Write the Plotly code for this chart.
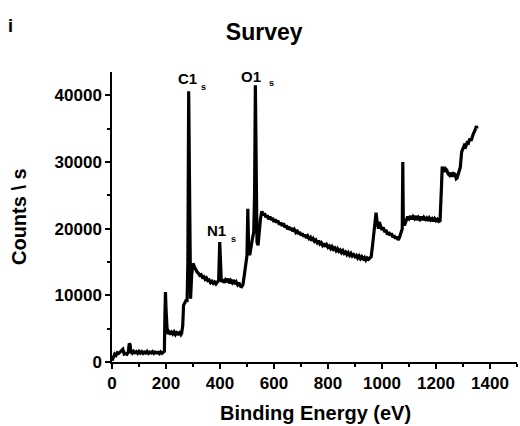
import plotly.graph_objects as go

# Binding energy (eV) and counts, region by region
energy_low = [0, 5, 10, 15, 20, 25, 30, 35, 40, 45, 50, 55, 60, 64, 67, 70, 75, 80, 85, 90, 95,
              100, 105, 110, 115, 120, 125, 130, 135, 140, 145, 150, 155, 160, 165, 170, 175,
              180, 185, 190, 194]
counts_low = [200, 600, 1200, 1000, 1400, 1300, 1500, 1800, 1900, 1200, 1300, 1150, 1400, 2800,
              2600, 1500, 1300, 1600, 1400, 1550, 1300, 1600, 1350, 1550, 1300, 1500, 1350, 1600,
              1300, 1500, 1350, 1550, 1300, 1500, 1350, 1450, 1250, 1500, 1300, 1450, 1600]

energy_c = [196, 198, 200, 202, 205, 210, 215, 220, 225, 230, 235, 240, 245, 250, 255, 258, 262,
            265, 270, 275, 278, 281, 284, 286, 288, 291, 295]
counts_c = [7000, 10500, 8000, 5000, 4200, 4600, 4300, 4500, 4200, 4500, 4100, 4400, 4200, 4400,
            4100, 4300, 5500, 8500, 8800, 9300, 9000, 15000, 40600, 30000, 12000, 9500, 13000]

energy_n = [300, 305, 310, 315, 320, 325, 330, 335, 340, 345, 350, 355, 360, 365, 370, 375, 380,
            385, 390, 395, 399, 402, 405, 410, 415, 420, 425, 430, 435, 440, 445, 450, 455, 460,
            465, 470, 475, 480, 485]
counts_n = [14800, 14300, 13800, 13500, 13300, 13000, 13100, 12700, 12800, 12400, 12600, 12200,
            12300, 11900, 12100, 11800, 12000, 11700, 12000, 12200, 18000, 12600, 12000, 12400,
            11900, 12300, 12000, 12500, 11800, 12200, 11900, 12300, 11700, 12000, 11600, 11900,
            11400, 11300, 11600]

energy_o = [490, 495, 500, 503, 506, 510, 515, 520, 525, 528, 531, 534, 537, 541, 545, 550]
counts_o = [13000, 15000, 16000, 23000, 17000, 16000, 17500, 18500, 19500, 25000, 41500, 30000,
            18000, 17500, 20000, 21500]

energy_bg = [555, 560, 565, 570, 575, 580, 585, 590, 595, 600, 605, 610, 615, 620, 625, 630, 635,
             640, 645, 650, 655, 660, 665, 670, 675, 680, 685, 690, 695, 700, 705, 710, 715, 720,
             725, 730, 735, 740, 745, 750, 755, 760, 765, 770, 775, 780, 785, 790, 795, 800, 805,
             810, 815, 820, 825, 830, 835, 840, 845, 850, 855, 860, 865, 870, 875, 880, 885, 890,
             895, 900, 905, 910, 915, 920, 925, 930, 935, 940, 945, 950, 955, 960]
counts_bg = [22600, 22000, 22300, 21700, 22000, 21400, 21800, 21300, 21600, 21000, 21400, 20900,
             21200, 20600, 20900, 20400, 20800, 20200, 20500, 19900, 20300, 19800, 20100, 19600,
             19900, 19500, 19800, 19200, 19500, 19000, 19300, 18800, 19100, 18600, 18900, 18500,
             18700, 18200, 18500, 18100, 18300, 17900, 18200, 17700, 17900, 17500, 17800, 17300,
             17600, 17200, 17400, 17000, 17300, 16900, 17100, 16700, 17000, 16600, 16800, 16400,
             16700, 16300, 16500, 16100, 16400, 16000, 16300, 15900, 16100, 15800, 16000, 15600,
             15900, 15500, 15800, 15500, 15700, 15300, 15600, 15400, 15600, 15800]

energy_hi = [965, 972, 978, 982, 987, 990, 995, 1000, 1005, 1010, 1015, 1020, 1025, 1030, 1035,
             1040, 1045, 1050, 1055, 1060, 1065, 1070, 1075, 1077, 1079, 1083, 1090, 1095, 1100,
             1105, 1110, 1115, 1120, 1125, 1130, 1135, 1140, 1145, 1150, 1155, 1160, 1165, 1170,
             1175, 1180, 1185, 1190, 1195, 1200, 1205, 1210, 1215]
counts_hi = [17500, 20000, 22400, 21000, 20000, 21000, 20500, 19800, 20200, 19500, 19800, 19100,
             19500, 19000, 19300, 18700, 19000, 18500, 18800, 18300, 18700, 19200, 20000, 30000,
             21000, 20500, 21200, 21800, 21500, 21900, 21400, 21800, 21500, 21900, 21300, 21700,
             21400, 21800, 21300, 21700, 21400, 21600, 21200, 21600, 21300, 21500, 21100, 21500,
             21200, 21400, 21100, 21200]

energy_top = [1220, 1223, 1230, 1235, 1240, 1245, 1250, 1255, 1260, 1265, 1270, 1275, 1278, 1285,
              1290, 1295, 1300, 1305, 1310, 1315, 1320, 1325, 1330, 1335, 1338, 1345, 1350, 1352]
counts_top = [26000, 29300, 28500, 29000, 28800, 28200, 28000, 28400, 27800, 28300, 28200, 27500,
              27600, 28600, 29200, 31500, 32000, 32500, 32300, 32900, 32800, 33500, 33200, 33900,
              34200, 34800, 35400, 35000]

energy = energy_low + energy_c + energy_n + energy_o + energy_bg + energy_hi + energy_top
counts = counts_low + counts_c + counts_n + counts_o + counts_bg + counts_hi + counts_top

peak_labels = ["C1", "O1", "N1"]
peak_label_x = [281, 516, 386]
peak_label_y = [42600, 42760, 19800]
sub_label_x = [338, 590, 449]
sub_label_y = [41200, 41900, 18400]

x_ticks = [0, 200, 400, 600, 800, 1000, 1200, 1400]
y_ticks = [0, 10000, 20000, 30000, 40000]
y_tick_text = ["0", "10000", "20000", "30000", "40000"]

FONT = "Liberation Sans, Arial, sans-serif"

fig = go.Figure()
fig.add_trace(go.Scatter(x=energy, y=counts, mode="lines",
                         line=dict(color="black", width=3.2), showlegend=False))

for t, x, y in zip(peak_labels, peak_label_x, peak_label_y):
    fig.add_annotation(x=x, y=y, xref="x", yref="y", text=t, showarrow=False,
                       font=dict(family=FONT, size=15, color="black", weight="bold"),
                       xanchor="center", yanchor="middle")
for x, y in zip(sub_label_x, sub_label_y):
    fig.add_annotation(x=x, y=y, xref="x", yref="y", text="s", showarrow=False,
                       font=dict(family=FONT, size=9, color="black", weight="bold"),
                       xanchor="center", yanchor="middle")

# axis titles and panel letter
fig.add_annotation(x=0.5025, y=-0.177, xref="paper", yref="paper", text="Binding Energy (eV)",
                   showarrow=False, xanchor="center", yanchor="middle",
                   font=dict(family=FONT, size=20, color="black", weight="bold"))
fig.add_annotation(x=-0.2296, y=0.5, xref="paper", yref="paper", text="Counts \\ s",
                   showarrow=False, textangle=-90, xanchor="center", yanchor="middle",
                   font=dict(family=FONT, size=20, color="black", weight="bold"))
fig.add_annotation(x=-0.25, y=1.157, xref="paper", yref="paper", text="i",
                   showarrow=False, xanchor="center", yanchor="middle",
                   font=dict(family=FONT, size=18, color="black", weight="bold"))

axis_common = dict(showline=True, linecolor="black", linewidth=1.5, ticks="outside",
                   ticklen=5, tickwidth=1.5, tickcolor="black", showgrid=False, zeroline=False,
                   tickfont=dict(family=FONT, size=17, color="black", weight="bold"),
                   mirror=False)

fig.update_xaxes(range=[0, 1500], tickvals=x_ticks,
                 minor=dict(dtick=100, tick0=0, ticks="outside", ticklen=3, tickwidth=1.5,
                            tickcolor="black"),
                 **axis_common)
fig.update_yaxes(range=[0, 43500], tickvals=y_ticks, ticktext=y_tick_text,
                 minor=dict(dtick=5000, tick0=0, ticks="outside", ticklen=3, tickwidth=1.5,
                            tickcolor="black"),
                 **axis_common)

fig.update_layout(
    width=520, height=426,
    margin=dict(l=112, r=3, t=72, b=64, pad=0),
    paper_bgcolor="white", plot_bgcolor="white",
    title=dict(text="Survey", x=0.508, xref="container", xanchor="center",
               y=0.925, yref="container", yanchor="middle",
               font=dict(family=FONT, size=23, color="black", weight="bold")),
)

fig.write_html("out.html")
